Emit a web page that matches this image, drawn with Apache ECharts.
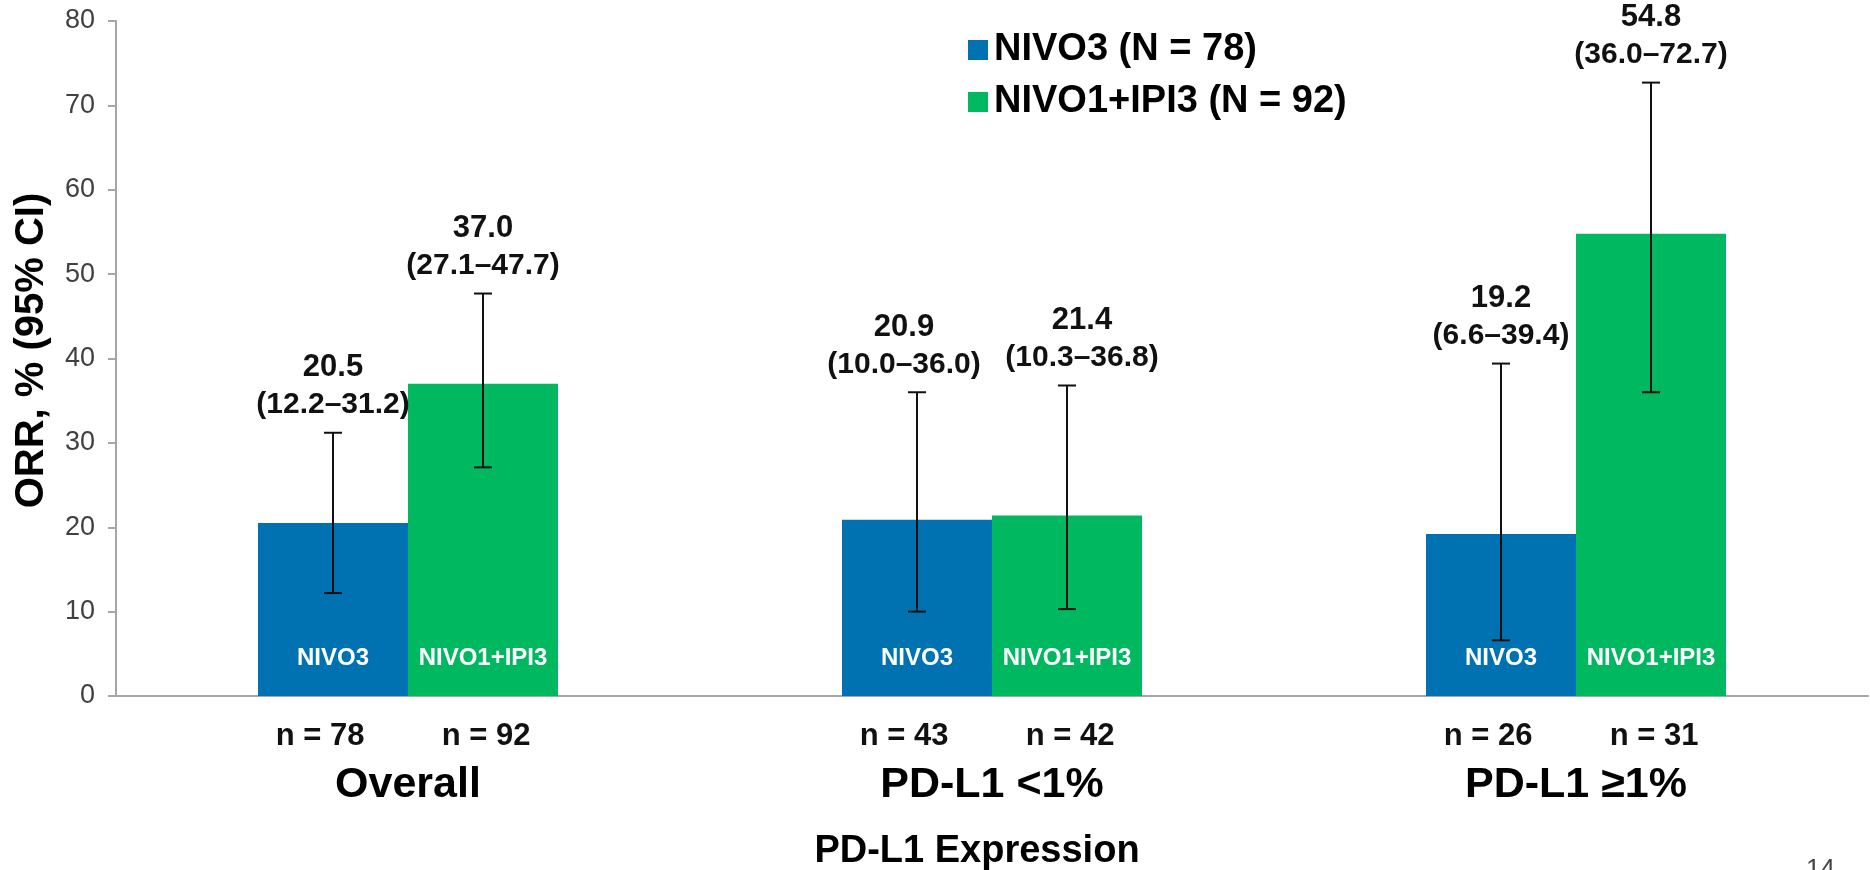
<!DOCTYPE html>
<html>
<head>
<meta charset="utf-8">
<script src="https://cdn.jsdelivr.net/npm/echarts@6/dist/echarts.min.js"></script>
<style>
html,body{margin:0;padding:0;background:#fff;overflow:hidden;}
#chart{width:1870px;height:870px;}
</style>
</head>
<body>
<div id="chart"></div>
<script>
// ---- data ----
const categories = ['Overall', 'PD-L1 <1%', 'PD-L1 \u22651%'];
const seriesNames = ['NIVO3 (N = 78)', 'NIVO1+IPI3 (N = 92)'];
const barLabels = ['NIVO3', 'NIVO1+IPI3'];
const nivo3Values = [20.5, 20.9, 19.2];
const nivo3Low = [12.2, 10.0, 6.6];
const nivo3High = [31.2, 36.0, 39.4];
const nivo3N = [78, 43, 26];
const comboValues = [37.0, 21.4, 54.8];
const comboLow = [27.1, 10.3, 36.0];
const comboHigh = [47.7, 36.8, 72.7];
const comboN = [92, 42, 31];
const yAxisTitle = 'ORR, % (95% CI)';
const xAxisTitle = 'PD-L1 Expression';
const pageNumber = '14';

// ---- styling ----
const FONT = "'Liberation Sans', Arial, Helvetica, sans-serif";
const BLUE = '#0072B1';
const GREEN = '#00B85F';
const BAR_W = 150;
// label nudges (style only): CI labels spread apart where neighbours would touch
const CI_LABEL_NUDGE = { nivo3: [0, -13, 0], combo: [0, 15, 0] };
const N_LABEL_NUDGE = { nivo3: -13, combo: 3 };

function errData(values, lows, highs, ns) {
  return values.map((v, i) => [i, v, lows[i], highs[i], ns[i]]);
}

function makeErrRender(offset, key) {
  return function (params, api) {
    const cat = api.value(0);
    const val = api.value(1);
    const lo = api.value(2);
    const hi = api.value(3);
    const n = api.value(4);
    const base = api.coord([cat, 0]);
    const x = base[0] + offset;
    const yLo = api.coord([cat, lo])[1];
    const yHi = api.coord([cat, hi])[1];
    const cap = 9;
    const ls = { stroke: '#111', lineWidth: 2 };
    return {
      type: 'group',
      children: [
        { type: 'line', shape: { x1: x, y1: yLo, x2: x, y2: yHi }, style: ls },
        { type: 'line', shape: { x1: x - cap, y1: yHi, x2: x + cap, y2: yHi }, style: ls },
        { type: 'line', shape: { x1: x - cap, y1: yLo, x2: x + cap, y2: yLo }, style: ls },
        {
          type: 'text', x: x + CI_LABEL_NUDGE[key][cat], y: yHi - 10,
          style: {
            text: '{v|' + val.toFixed(1) + '}\n{c|(' + lo.toFixed(1) + '\u2013' + hi.toFixed(1) + ')}',
            textAlign: 'center', align: 'center',
            textVerticalAlign: 'bottom', verticalAlign: 'bottom',
            rich: {
              v: { fontFamily: FONT, fontWeight: 'bold', fontSize: 31, lineHeight: 38, fill: '#111', color: '#111' },
              c: { fontFamily: FONT, fontWeight: 'bold', fontSize: 30, lineHeight: 36, fill: '#111', color: '#111' }
            }
          }
        },
        {
          type: 'text', x: x + N_LABEL_NUDGE[key], y: base[1] + 40,
          style: {
            text: 'n = ' + n,
            textAlign: 'center', align: 'center',
            textVerticalAlign: 'middle', verticalAlign: 'middle',
            font: 'bold 31px ' + FONT,
            fill: '#111'
          }
        }
      ]
    };
  };
}

const chart = echarts.init(document.getElementById('chart'));
chart.setOption({
  animation: false,
  backgroundColor: '#fff',
  grid: { left: 116, right: 2, top: 21, bottom: 174, containLabel: false, outerBoundsMode: 'none' },
  legend: {
    data: seriesNames,
    orient: 'vertical',
    left: 963,
    top: 25,
    itemWidth: 20,
    itemHeight: 20,
    itemGap: 12,
    icon: 'rect',
    textStyle: { fontFamily: FONT, fontWeight: 'bold', fontSize: 38, color: '#000', lineHeight: 40, padding: [0, 0, 0, 1] }
  },
  xAxis: {
    type: 'category',
    data: categories,
    axisLine: { lineStyle: { color: '#a6a6a6', width: 2 } },
    axisTick: { show: false },
    axisLabel: { margin: 68, fontFamily: FONT, fontWeight: 'bold', fontSize: 43, color: '#000' },
    name: xAxisTitle,
    nameLocation: 'middle',
    nameGap: 137,
    nameTextStyle: { fontFamily: FONT, fontWeight: 'bold', fontSize: 38, color: '#000', padding: [0, 30, 0, 0] }
  },
  yAxis: {
    type: 'value',
    min: 0, max: 80, interval: 10,
    splitLine: { show: false },
    axisLine: { show: true, lineStyle: { color: '#a6a6a6', width: 2 } },
    axisTick: { show: true, length: 8, lineStyle: { color: '#a6a6a6', width: 2 } },
    axisLabel: { margin: 21, fontFamily: FONT, fontSize: 27, color: '#404040' },
    name: yAxisTitle,
    nameLocation: 'middle',
    nameGap: 64,
    nameTextStyle: { fontFamily: FONT, fontWeight: 'bold', fontSize: 40, color: '#000', padding: [0, 0, 0, 16] }
  },
  series: [
    {
      name: seriesNames[0], type: 'bar', data: nivo3Values,
      barWidth: BAR_W, barGap: '0%',
      itemStyle: { color: BLUE },
      label: { show: true, position: 'insideBottom', distance: 26, formatter: barLabels[0],
        fontFamily: FONT, fontWeight: 'bold', fontSize: 24, color: '#fff' }
    },
    {
      name: seriesNames[1], type: 'bar', data: comboValues,
      barWidth: BAR_W, barGap: '0%',
      itemStyle: { color: GREEN },
      label: { show: true, position: 'insideBottom', distance: 26, formatter: barLabels[1],
        fontFamily: FONT, fontWeight: 'bold', fontSize: 24, color: '#fff' }
    },
    {
      name: 'ci-nivo3', type: 'custom', renderItem: makeErrRender(-BAR_W / 2, 'nivo3'),
      data: errData(nivo3Values, nivo3Low, nivo3High, nivo3N), z: 5, silent: true, clip: false
    },
    {
      name: 'ci-combo', type: 'custom', renderItem: makeErrRender(BAR_W / 2, 'combo'),
      data: errData(comboValues, comboLow, comboHigh, comboN), z: 5, silent: true, clip: false
    }
  ],
  graphic: [
    { type: 'text', left: 1806, top: 857, style: { text: pageNumber, font: '26px ' + FONT, fill: '#444' } }
  ]
});
</script>
</body>
</html>
